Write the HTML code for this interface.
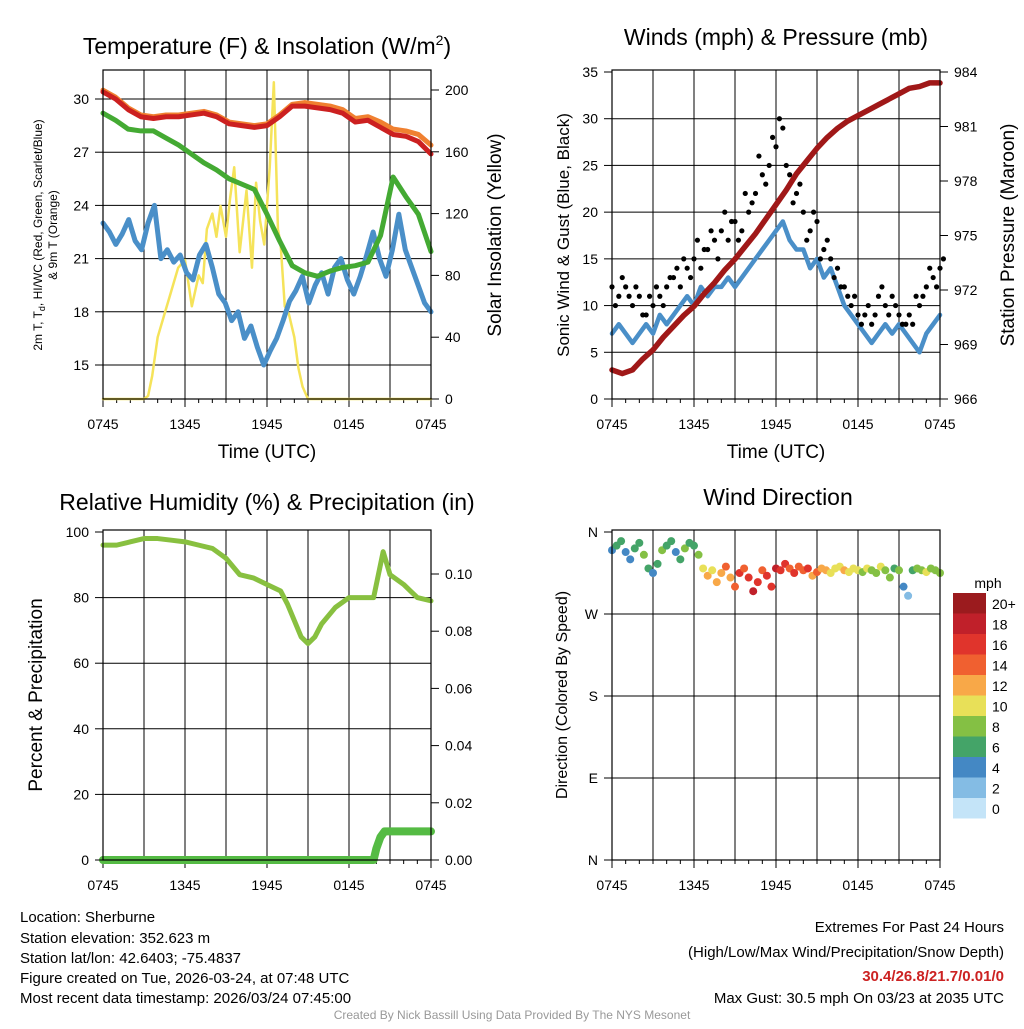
<!DOCTYPE html>
<html><head><meta charset="utf-8"><style>
body{margin:0;background:#fff;width:1024px;height:1024px;overflow:hidden}
svg{font-family:"Liberation Sans",sans-serif}
</style></head><body>
<svg id="c" width="1024" height="1024" viewBox="0 0 1024 1024">
<g id="static">
<text x="267" y="54" font-size="23" text-anchor="middle">Temperature (F) &amp; Insolation (W/m<tspan font-size="14" dy="-9">2</tspan><tspan dy="9">)</tspan></text>
<text x="776" y="45" font-size="23" text-anchor="middle">Winds (mph) &amp; Pressure (mb)</text>
<text x="267" y="510" font-size="23" text-anchor="middle">Relative Humidity (%) &amp; Precipitation (in)</text>
<text x="778" y="505" font-size="23" text-anchor="middle">Wind Direction</text>
<text x="267" y="458" font-size="19" text-anchor="middle">Time (UTC)</text>
<text x="776" y="458" font-size="19" text-anchor="middle">Time (UTC)</text>
<text transform="translate(42,235) rotate(-90)" font-size="12" text-anchor="middle">2m T, T<tspan font-size="9" dy="3">d</tspan><tspan dy="-3">, HI/WC (Red, Green, Scarlet/Blue)</tspan></text>
<text transform="translate(57,235) rotate(-90)" font-size="12" text-anchor="middle">&amp; 9m T (Orange)</text>
<text transform="translate(501,235) rotate(-90)" font-size="19" text-anchor="middle">Solar Insolation (Yellow)</text>
<text transform="translate(569,235) rotate(-90)" font-size="17" text-anchor="middle">Sonic Wind &amp; Gust (Blue, Black)</text>
<text transform="translate(1014,235) rotate(-90)" font-size="19" text-anchor="middle">Station Pressure (Maroon)</text>
<text transform="translate(42,695) rotate(-90)" font-size="19" text-anchor="middle">Percent &amp; Precipitation</text>
<text transform="translate(567,695) rotate(-90)" font-size="16" text-anchor="middle">Direction (Colored By Speed)</text>
<g font-size="15">
<text x="20" y="922">Location: Sherburne</text>
<text x="20" y="943">Station elevation: 352.623 m</text>
<text x="20" y="963">Station lat/lon: 42.6403; -75.4837</text>
<text x="20" y="983">Figure created on Tue, 2026-03-24, at 07:48 UTC</text>
<text x="20" y="1003">Most recent data timestamp: 2026/03/24 07:45:00</text>
</g>
<g font-size="15" text-anchor="end">
<text x="1004" y="932">Extremes For Past 24 Hours</text>
<text x="1004" y="957">(High/Low/Max Wind/Precipitation/Snow Depth)</text>
<text x="1004" y="981" fill="#cc2222" font-weight="bold">30.4/26.8/21.7/0.01/0</text>
<text x="1004" y="1003">Max Gust: 30.5 mph On 03/23 at 2035 UTC</text>
</g>
<text x="512" y="1019" font-size="12" fill="#999" text-anchor="middle">Created By Nick Bassill Using Data Provided By The NYS Mesonet</text>
</g>
</svg>
<script>
// ---- data (hours after 0745 UTC) ----
const xTickLabels=["0745","1345","1945","0145","0745"];
const tempRed=[30.4,30.0,29.4,29.0,28.9,29.0,29.0,29.1,29.2,29.0,28.6,28.5,28.4,28.5,29.0,29.6,29.6,29.5,29.4,29.2,28.7,28.8,28.4,28.0,27.9,27.6,26.9];
const temp9m=[30.5,30.1,29.5,29.1,29.0,29.1,29.1,29.2,29.3,29.1,28.7,28.6,28.5,28.6,29.1,29.7,29.8,29.7,29.6,29.4,28.9,29.0,28.7,28.3,28.2,28.0,27.4];
const tempGreen=[29.2,28.8,28.3,28.2,28.2,27.8,27.4,26.9,26.4,26.0,25.5,25.2,24.9,23.5,22.0,20.6,20.2,20.0,20.3,20.5,20.6,20.8,22.3,25.6,24.5,23.5,21.4];
const dewBlue=[23,22.5,21.8,22.4,23.2,22,21.5,23,24,21,21.5,20.8,21.2,20.2,19.8,21.2,21.8,20.5,19,18.5,17.5,18,16.5,17.2,16,15,15.8,16.5,17.5,18.6,19.2,20,18.5,19.5,20.2,19,20.5,21,19.8,19,20,21.2,22.5,21,20,21.5,23.5,21.5,20.5,19.5,18.5,18];
const solarHours=[0,3.0,3.3,3.6,4.0,4.5,5.0,5.5,6.0,6.5,7.0,7.3,7.6,8.0,8.3,8.6,9.0,9.3,9.6,10.0,10.5,10.9,11.2,11.5,11.8,12.2,12.5,12.8,13.0,13.3,13.6,14.0,14.3,14.6,15.0,24];
const solarVals=[0,0,2,15,40,55,70,85,90,60,80,75,110,120,105,125,105,130,150,95,135,85,140,115,100,150,205,110,100,60,55,40,20,8,0,0];
const pressure=[967.6,967.4,967.6,968.2,968.7,969.4,970.0,970.6,971.1,971.8,972.4,973.1,973.7,974.4,975.1,975.9,976.7,977.5,978.4,979.1,979.8,980.4,980.9,981.3,981.6,981.9,982.2,982.5,982.8,983.1,983.2,983.4,983.4];
const windSpd=[7,8,7,6,7,8,7,9,8,9,10,11,10,12,11,12,12,13,12,13,14,15,16,17,18,19,17,16,16,14,15,13,14,12,10,9,8,7,6,7,8,7,8,7,6,5,7,8,9];
const gustA=[12,11,12,10,11,9,10,11,12,13,12,14,15,14,16,17,18,17,19,18,20,22,24,25,27,29,24,22,20,18,19,16,15,14,12,10,9,9,8,11,10,11,9,8,8,10,12,13,14];
const gustB=[10,13,11,12,9,11,12,10,13,14,15,13,17,16,18,15,20,19,17,22,21,26,23,28,30,25,21,23,17,20,15,17,13,12,11,11,8,10,9,12,9,10,8,9,11,11,14,12,15];
const rh=[96,96,97,98,98,97.5,97,96,95,92,87,86,84,82,78,73,68,66,68,72,77,80,80,80,94,87,84,82,80,79];
const rhHours=[0,1,2,3,4,5,6,7,8,9,10,11,12,13,13.5,14,14.5,15,15.5,16,17,18,19,19.8,20.5,21,22,22.5,23,24];
const precipHours=[0,19.8,20.0,20.3,20.6,24];
const precipVals=[0,0,0.004,0.008,0.01,0.01];
const dirDeg=[340,345,350,338,330,342,348,335,320,315,325,340,345,350,338,330,342,348,345,
335,320,312,318,305,315,322,310,300,315,320,310,295,305,318,312,300,320,
318,325,320,315,322,318,320,312,316,320,318,315,320,322,318,316,320,318,
316,320,318,315,322,318,310,320,318,300,290,318,320,318,316,320,318,315];
const dirSpd=[5,6,7,5,4,6,7,8,6,5,7,8,7,6,5,7,8,6,7,
9,10,12,11,13,12,14,13,15,16,14,17,18,16,15,17,16,18,
16,17,15,16,14,15,16,13,14,12,13,11,10,11,12,10,11,11,
9,10,8,9,10,8,9,7,8,4,3,7,8,9,10,9,8,9];
const cbLabels=["20+","18","16","14","12","10","8","6","4","2","0"];
const cbColors=["#9b1b1e","#c0202a","#e0342c","#f06030","#f8a848","#e8e058","#84c044","#44a468","#4488c4","#84bce4","#c4e4f8"];

const NS="http://www.w3.org/2000/svg";
const svg=document.getElementById('c');
function mk(t,a,p){const e=document.createElementNS(NS,t);for(const k in a)e.setAttribute(k,a[k]);(p||svg).appendChild(e);return e;}
function lin(d0,d1,r0,r1){return v=>r0+(v-d0)*(r1-r0)/(d1-d0);}
function spd2col(s){let i=Math.min(10,Math.floor(s/2));return cbColors[10-i];}

function panel(name,x0,y0,x1,y1,hgrid){
  const g=mk('g',{});
  
  
  for(let i=1;i<8;i++){const x=x0+(x1-x0)*i/8;mk('line',{x1:x,x2:x,y1:y0,y2:y1,stroke:'#000','stroke-width':1},g);}
  hgrid.forEach(y=>mk('line',{x1:x0,x2:x1,y1:y,y2:y,stroke:'#000','stroke-width':1},g));
  xTickLabels.forEach((l,i)=>{const x=x0+(x1-x0)*i/4;const t=mk('text',{x:x,y:y1+30,'font-size':14,'text-anchor':'middle'},g);t.textContent=l;});
  for(let i=0;i<=24;i++){const x=x0+(x1-x0)*i/24;mk('line',{x1:x,x2:x,y1:y1,y2:y1+(i%6?4:8),stroke:'#000'},g);}
  return g;
}
function frame(g,x0,y0,x1,y1){mk('rect',{x:x0,y:y0,width:x1-x0,height:y1-y0,fill:'none',stroke:'#000','stroke-width':1.2},g);}
function ticksY(g,vals,sc,x,side,fmt,fs){vals.forEach(v=>{const y=sc(v);mk('line',{x1:x,x2:x+(side<0?-8:8),y1:y,y2:y,stroke:'#000'},g);const t=mk('text',{x:side<0?x-14:x+14,y:y+5,'font-size':fs||14,'text-anchor':side<0?'end':'start'},g);t.textContent=fmt?fmt(v):v;});}
function line(g,xs,ys,sx,sy,col,w,nm){const p=mk('polyline',{points:xs.map((x,i)=>sx(x)+','+sy(ys[i])).join(' '),fill:'none',stroke:col,'stroke-width':w,'stroke-linejoin':'round','stroke-linecap':'round'},g);return p;}
function idx(n,span){return Array.from({length:n},(_,i)=>i*span/(n-1));}

// Panel 1
{const x0=103,y0=70,x1=431,y1=399;const sx=lin(0,24,x0,x1);const sy=lin(15,30,365,99);const sr=lin(0,200,399,90);
const g=panel('temperature-panel',x0,y0,x1,y1,[30,27,24,21,18,15].map(sy));
line(g,solarHours,solarVals,sx,sr,'#f5e35a',2.5,'solar-line');
line(g,idx(dewBlue.length,24),dewBlue,sx,sy,'#4a8fc8',5,'dewpoint-line');
line(g,idx(tempGreen.length,24),tempGreen,sx,sy,'#44aa33',5,'heat-index-line');
line(g,idx(temp9m.length,24),temp9m,sx,sy,'#f08030',5,'temp-9m-line');
line(g,idx(tempRed.length,24),tempRed,sx,sy,'#cc2020',5,'temp-2m-line');
frame(g,x0,y0,x1,y1);ticksY(g,[30,27,24,21,18,15],sy,x0,-1);ticksY(g,[0,40,80,120,160,200],sr,x1,1);}
// Panel 2
{const x0=612,y0=70,x1=940,y1=399;const sx=lin(0,24,x0,x1);const sy=lin(0,35,399,72);const sp=lin(966,984,399,72);
const g=panel('wind-panel',x0,y0,x1,y1,[5,10,15,20,25,30].map(sy));
line(g,idx(windSpd.length,24),windSpd,sx,sy,'#4a8fc8',4.5,'wind-speed-line');
const ht=idx(gustA.length,24);
gustA.forEach((v,i)=>{const c=mk('circle',{cx:sx(ht[i]),cy:sy(v),r:2.6,fill:'#000'},g);});
gustB.forEach((v,i)=>{const c=mk('circle',{cx:sx(ht[i]+0.25),cy:sy(v),r:2.6,fill:'#000'},g);});
line(g,idx(pressure.length,24),pressure,sx,sp,'#a01818',5.5,'pressure-line');
frame(g,x0,y0,x1,y1);ticksY(g,[0,5,10,15,20,25,30,35],sy,x0,-1);ticksY(g,[966,969,972,975,978,981,984],sp,x1,1);}
// Panel 3
{const x0=103,y0=530,x1=431,y1=860;const sx=lin(0,24,x0,x1);const sy=lin(0,100,860,532);const sq=lin(0,0.1,860,574);
const g=panel('humidity-panel',x0,y0,x1,y1,[20,40,60,80].map(sy));
line(g,rhHours,rh,sx,sy,'#88c040',5,'rh-line');
line(g,precipHours,precipVals,sx,sq,'#55bb44',8,'precip-line');
frame(g,x0,y0,x1,y1);ticksY(g,[0,20,40,60,80,100],sy,x0,-1);ticksY(g,[0,0.02,0.04,0.06,0.08,0.1],sq,x1,1,v=>v.toFixed(2));}
// Panel 4
{const x0=612,y0=530,x1=940,y1=860;const sx=lin(0,24,x0,x1);const sy=lin(0,360,860,532);
const g=panel('direction-panel',x0,y0,x1,y1,[90,180,270].map(sy));
const ht=idx(dirDeg.length,24);
dirDeg.forEach((d,i)=>{const c=mk('circle',{cx:sx(ht[i]),cy:sy(d),r:4,fill:spd2col(dirSpd[i])},g);});
frame(g,x0,y0,x1,y1);ticksY(g,[0,90,180,270,360],sy,x0,-1,v=>['N','E','S','W','N'][v/90]);
const cb=mk('g',{});
const t=mk('text',{x:988,y:588,'font-size':14,'text-anchor':'middle'},cb);t.textContent='mph';
cbLabels.forEach((l,i)=>{const y=593+i*20.5;mk('rect',{x:953,y:y,width:33,height:20.5,fill:cbColors[i]},cb);const tt=mk('text',{x:992,y:y+16,'font-size':14},cb);tt.textContent=l;});}
</script>
</body></html>
